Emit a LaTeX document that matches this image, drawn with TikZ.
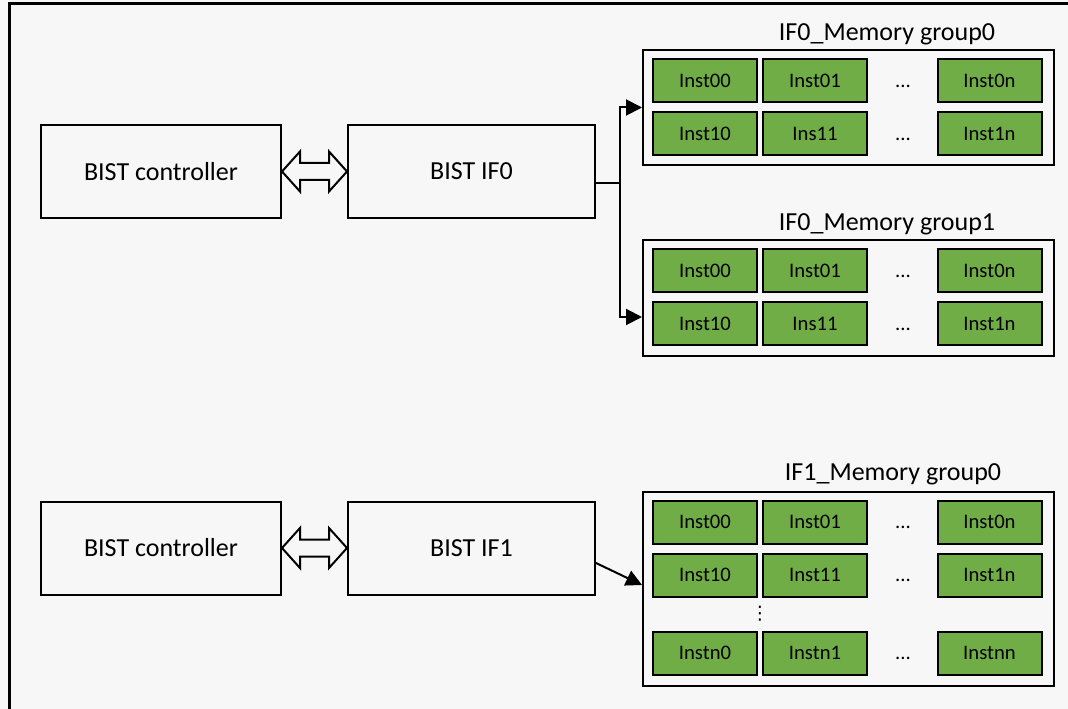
\documentclass[tikz,border=0pt]{standalone}
\usepackage{fontspec}
\setmainfont{Carlito}
\newfontfamily\symfont{DejaVu Sans}
\usetikzlibrary{arrows.meta, calc}
\definecolor{paper}{RGB}{247,247,247}
\definecolor{instgreen}{RGB}{112,173,71}

\begin{document}
\begin{tikzpicture}[x=0.75pt, y=-0.75pt, line width=1.5pt,
   block/.style = {draw, rectangle, minimum width=180pt, minimum height=69.75pt, font=\fontsize{19.5}{23}\selectfont},
   group/.style = {draw, rectangle, minimum width=308.25pt, inner sep=0pt},
   title/.style = {inner sep=0pt, font=\fontsize{19.5}{23}\selectfont},
   inst/.style = {draw, fill=instgreen, minimum width=78pt, minimum height=32.25pt, text height=10pt, text depth=0pt, font=\fontsize{15.5}{18}\selectfont},
   more/.style = {inner sep=0pt, text height=10pt, text depth=0pt, font=\fontsize{15.5}{18}\selectfont},
   link/.style = {-{Triangle[length=12pt,width=12pt]}}]

      \path[use as bounding box, fill=paper] (0,0) rectangle (1068,709);
      \draw[line width=2.25pt] (9,712) -- (9,4) -- (1072,4);

      % interface 0
      \node[block] (ctl0) at (161,171.5)   {BIST controller};
      \node[block, minimum width=185.25pt] (if0) at (471.5,171.5) {BIST IF0};

      \node[group, minimum height=86.25pt] (g0) at (848.5,107.5) {};
      \node[title] (t0) at (887,34) {IF0\_Memory group0};
      \node[inst] (a00) at (705,80.5)    {Inst00};
      \node[inst] (a01) at (815,80.5)    {Inst01};
      \node[more] (a0d) at (903,80.5)    {...};
      \node[inst] (a0n) at (989.5,80.5)  {Inst0n};
      \node[inst] (a10) at (705,133.5)   {Inst10};
      \node[inst] (a11) at (815,133.5)   {Ins11};
      \node[more] (a1d) at (903,133.5)   {...};
      \node[inst] (a1n) at (989.5,133.5) {Inst1n};

      \node[group, minimum height=87pt] (g1) at (848.5,298) {};
      \node[title] (t1) at (887,224) {IF0\_Memory group1};
      \node[inst] (b00) at (705,271)     {Inst00};
      \node[inst] (b01) at (815,271)     {Inst01};
      \node[more] (b0d) at (903,271)     {...};
      \node[inst] (b0n) at (989.5,271)   {Inst0n};
      \node[inst] (b10) at (705,324)     {Inst10};
      \node[inst] (b11) at (815,324)     {Ins11};
      \node[more] (b1d) at (903,324)     {...};
      \node[inst] (b1n) at (989.5,324)   {Inst1n};

      % interface 1
      \node[block] (ctl1) at (161,548)   {BIST controller};
      \node[block, minimum width=185.25pt] (if1) at (471.5,548) {BIST IF1};

      \node[group, minimum height=145.5pt] (g2) at (848.5,589) {};
      \node[title] (t2) at (893,474) {IF1\_Memory group0};
      \node[inst] (c00) at (705,522)     {Inst00};
      \node[inst] (c01) at (815,522)     {Inst01};
      \node[more] (c0d) at (903,522)     {...};
      \node[inst] (c0n) at (989.5,522)   {Inst0n};
      \node[inst] (c10) at (705,575)     {Inst10};
      \node[inst] (c11) at (815,575)     {Inst11};
      \node[more] (c1d) at (903,575)     {...};
      \node[inst] (c1n) at (989.5,575)   {Inst1n};
      \node[inner sep=0pt, font=\symfont\fontsize{14}{16}\selectfont] (cv) at (760,614) {⋮};
      \node[inst] (cn0) at (705,653)     {Instn0};
      \node[inst] (cn1) at (815,653)     {Instn1};
      \node[more] (cnd) at (903,653)     {...};
      \node[inst] (cnn) at (989.5,653)   {Instnn};

      % hollow double arrows
      \draw (ctl0.east) -- ++(18,-20) -- ++(0,11.5) -- ($(if0.west)+(-18,-8.5)$) -- ++(0,-11.5)
            -- (if0.west) -- ++(-18,20) -- ++(0,-11.5) -- ($(ctl0.east)+(18,8.5)$) -- ++(0,11.5) -- cycle;
      \draw (ctl1.east) -- ++(18,-20) -- ++(0,11.5) -- ($(if1.west)+(-18,-8.5)$) -- ++(0,-11.5)
            -- (if1.west) -- ++(-18,20) -- ++(0,-11.5) -- ($(ctl1.east)+(18,8.5)$) -- ++(0,11.5) -- cycle;

      \coordinate (fork) at (620,183);
      \draw[link] (if0.east |- fork) -- (fork) |- (g0.west);
      \draw[link] (fork) |- ($(g1.west)+(0,19)$);
      \draw[link] ($(if1.east)+(0,15)$) -- ($(g2.west)+(0,-4)$);

\end{tikzpicture}
\end{document}
